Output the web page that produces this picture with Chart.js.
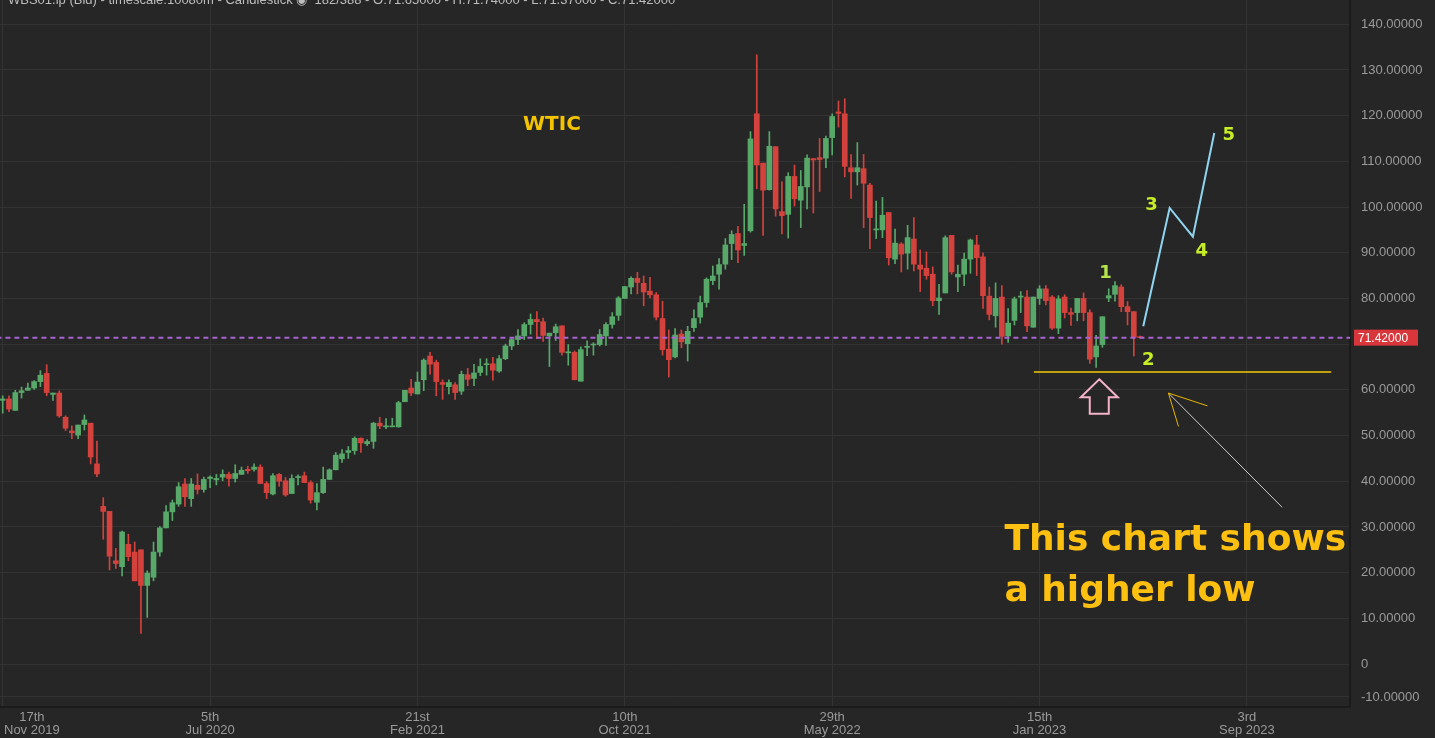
<!DOCTYPE html>
<html>
<head>
<meta charset="utf-8">
<script src="https://cdn.jsdelivr.net/npm/chart.js@4.4.1/dist/chart.umd.min.js"></script>
<style>
  html, body { margin: 0; padding: 0; background: #262626; }
  #wrap { width: 1435px; height: 738px; position: relative; }
</style>
</head>
<body>
<div id="wrap"><canvas id="chart"></canvas></div>
<script>
/* DATA - weekly WTI candles */
const opens = [
  57.7,58.0,55.5,59.4,59.9,60.4,61.8,63.6,59.0,59.3,
  54.0,51.0,50.1,52.4,52.7,43.8,34.5,33.4,22.6,21.3,
  26.2,24.5,25.0,17.2,19.0,24.5,29.8,33.3,35.0,39.4,
  36.2,39.1,38.2,40.6,40.3,40.9,41.5,40.6,41.5,42.6,
  42.6,43.1,39.5,37.2,41.5,40.1,37.3,40.8,41.2,39.7,
  35.4,37.5,40.4,42.5,44.9,46.3,46.7,49.4,48.2,48.7,
  52.7,51.9,51.9,51.9,57.4,60.4,59.1,62.2,67.4,66.0,
  61.6,60.7,61.1,59.7,63.3,62.5,63.8,65.5,65.7,64.1,
  66.8,69.6,71.0,71.8,74.3,75.4,74.9,71.8,72.5,74.0,
  68.1,68.2,61.9,69.3,69.8,69.9,71.8,74.3,76.3,80.0,
  82.5,84.4,83.3,81.6,80.8,75.6,68.9,67.2,72.2,70.1,
  73.6,75.9,79.1,83.9,85.3,87.5,92.0,94.2,91.6,94.8,
  120.4,109.6,103.8,113.2,99.0,98.4,106.7,101.5,104.4,110.6,
  110.8,110.7,115.2,120.8,120.4,108.6,107.7,108.4,104.8,95.0,
  95.0,98.8,88.6,91.9,89.9,93.0,87.3,86.6,85.3,79.5,
  81.2,93.8,84.7,85.3,88.6,91.7,89.1,80.5,76.2,80.3,
  71.8,75.2,80.3,80.3,73.7,80.0,82.1,80.3,73.5,80.3,
  76.9,76.9,80.0,76.9,67.2,69.9,80.1,80.9,82.5,78.2,
  77.1,71.65
];
const highs = [
  58.7,58.7,59.9,60.6,61.5,62.0,64.2,65.5,59.3,59.8,
  54.3,52.1,52.3,54.5,52.7,48.8,36.4,33.4,25.3,29.1,
  28.4,26.7,25.0,20.4,26.7,30.1,34.7,35.9,39.7,40.6,
  40.6,41.6,40.9,41.2,41.5,42.5,42.0,43.6,43.1,43.3,
  43.8,43.6,39.9,41.7,41.7,40.8,41.4,41.4,42.0,40.1,
  39.5,43.1,42.7,46.3,46.9,47.6,49.7,49.5,49.1,52.9,
  54.0,53.7,53.8,57.5,59.9,62.3,63.9,66.8,68.2,66.5,
  62.2,62.2,61.6,64.1,64.7,65.6,66.8,66.8,67.1,67.5,
  70.0,71.5,73.2,74.7,76.6,77.1,75.7,72.4,74.4,74.0,
  69.9,68.5,69.4,70.7,70.3,73.2,74.7,76.9,80.4,82.6,
  84.7,85.7,84.9,84.6,81.3,79.4,73.1,73.4,73.1,73.9,
  77.5,80.5,84.5,87.1,88.7,93.1,94.8,95.8,100.6,116.5,
  133.3,109.6,116.5,113.2,105.5,107.5,109.2,108.0,111.4,110.6,
  115.0,115.5,120.4,123.2,123.7,111.5,114.1,111.5,105.2,101.3,
  102.1,98.8,95.2,92.2,96.0,97.7,90.6,90.2,86.9,83.1,
  93.7,93.8,87.3,89.9,93.0,93.8,89.9,82.5,83.4,82.8,
  77.8,80.3,81.5,81.7,80.3,82.8,82.8,80.6,80.6,80.8,
  77.9,80.0,81.2,77.5,71.9,76.0,82.1,83.7,83.0,79.3,
  77.1,71.74
];
const lows = [
  54.9,55.2,55.5,58.2,59.9,60.1,60.7,58.7,57.7,54.0,
  51.1,49.3,49.3,51.2,43.8,41.0,27.3,20.6,20.9,19.3,
  22.6,18.2,6.7,10.2,18.2,23.6,29.8,31.4,34.5,34.5,
  34.5,37.2,37.6,38.6,39.2,40.1,38.9,39.8,41.5,41.7,
  42.2,39.5,36.2,37.0,38.9,36.7,37.3,39.2,39.7,35.2,
  33.7,37.3,40.4,42.5,44.1,45.0,45.9,46.3,47.8,47.2,
  51.5,51.5,51.9,51.8,57.4,58.7,59.1,59.8,63.4,58.7,
  57.9,59.1,57.9,59.0,60.9,60.9,63.1,63.2,62.1,63.8,
  66.6,68.8,69.9,71.0,72.2,71.2,70.6,65.1,70.8,67.6,
  65.4,62.2,61.9,67.5,67.6,69.6,69.7,73.5,75.2,80.0,
  81.0,81.0,78.4,80.1,75.3,67.6,62.8,67.0,69.2,66.3,
  72.8,74.6,78.1,83.0,82.0,86.4,88.5,87.8,89.4,94.5,
  104.0,93.8,103.7,98.0,94.1,93.2,100.2,95.5,99.6,98.7,
  103.4,108.6,111.4,117.5,106.6,101.9,104.8,95.5,90.9,93.1,
  93.3,87.3,87.6,85.8,86.4,86.0,81.5,84.2,78.4,76.5,
  81.2,85.3,81.5,82.8,85.5,85.0,77.8,75.3,73.7,70.0,
  70.4,74.2,76.9,72.7,73.7,78.7,78.6,73.2,72.3,75.7,
  74.1,75.1,75.1,65.8,64.9,69.3,79.3,79.4,77.1,74.2,
  67.4,71.37
];
const closes = [
  58.0,55.8,59.4,59.8,60.4,61.8,63.2,59.4,59.3,54.3,
  51.6,50.6,52.3,53.4,45.3,41.6,33.4,23.6,22.0,28.9,
  23.5,18.2,17.2,19.9,24.5,29.8,33.3,35.3,38.8,36.6,
  39.4,38.2,40.4,40.9,40.6,41.5,40.6,41.7,42.4,42.3,
  43.1,39.5,37.5,41.2,40.0,37.0,40.6,41.0,39.7,35.9,
  37.5,40.4,42.5,45.7,46.0,46.7,49.4,48.4,48.7,52.7,
  52.1,52.1,52.1,57.2,59.9,59.3,61.7,66.5,65.6,61.8,
  61.2,61.6,59.4,63.4,62.3,63.7,65.1,65.6,64.3,66.8,
  69.6,71.0,71.8,74.3,75.4,74.9,71.9,72.4,73.8,68.2,
  68.2,62.2,68.8,69.4,69.9,72.1,74.3,76.0,80.1,82.6,
  84.4,83.5,81.4,80.8,75.9,68.8,66.6,72.0,70.5,72.8,
  75.6,79.1,84.2,84.9,87.4,91.7,94.0,90.6,92.0,114.9,
  109.2,103.7,113.3,99.6,98.1,106.7,101.8,104.5,110.7,110.3,
  110.4,115.0,119.8,120.5,108.9,107.7,108.6,105.2,97.7,95.2,
  98.2,88.9,92.1,89.7,93.3,87.5,86.4,85.0,79.5,80.1,
  93.3,85.8,85.3,88.6,92.8,88.9,80.6,76.5,80.0,71.7,
  74.6,79.9,80.4,74.0,80.3,82.1,79.5,73.5,79.9,76.9,
  76.5,80.0,76.9,66.7,69.6,76.0,80.6,82.8,78.2,77.1,
  71.5,71.42
];

/* axis ticks: x in candle number (one per week), every 33 weeks */
const xTickIdx   = [1, 34, 67, 100, 133, 166, 199];
const xTickDay   = ["17th", "5th", "21st", "10th", "29th", "15th", "3rd"];
const xTickMonth = ["Nov 2019", "Jul 2020", "Feb 2021", "Oct 2021", "May 2022", "Jan 2023", "Sep 2023"];
const yTickVals  = [-10, 0, 10, 20, 30, 40, 50, 60, 70, 80, 90, 100, 110, 120, 130, 140];

/* drawn annotations, in candle number / price */
const waveX = [182.5, 186.7, 190.4, 193.8];
const waveY = [73.9, 99.8, 93.5, 116.2];
const waveLabels = ["1", "2", "3", "4", "5"];
const waveLabelX = [176.5, 183.3, 183.8, 191.8, 196.1];
const waveLabelY = [85.5, 66.5, 100.4, 90.4, 115.7];
const supportLevel = 63.9;
const supportFrom = 165.1, supportTo = 212.4;

const GREEN = "#58a86a";
const RED = "#d4423d";

const weeks = opens.map((_, i) => i + 1);
const last = closes.length - 1;
const candleColors = weeks.map((_, i) => closes[i] >= opens[i] ? GREEN : RED);

const header = "WBS01.lp (Bid) - timescale:10080m - Candlestick \u25C9  182/388 - O:" +
  opens[last].toFixed(5) + " - H:" + highs[last].toFixed(5) +
  " - L:" + lows[last].toFixed(5) + " - C:" + closes[last].toFixed(5);

/* PLUGIN: annotations + x labels */
const annotations = {
  id: "annotations",
  afterDatasetsDraw(chart) {
    const { ctx, scales: { x, y } } = chart;
    const px = v => x.getPixelForValue(v);
    const py = v => y.getPixelForValue(v);
    ctx.save();

    // WTIC
    ctx.fillStyle = "#f5c400";
    ctx.font = "bold 20px 'DejaVu Sans'";
    ctx.textAlign = "center";
    ctx.textBaseline = "middle";
    ctx.fillText("WTIC", px(88.4), py(118.0));

    // wave numbers
    ctx.font = "bold 18px 'DejaVu Sans'";
    waveLabels.forEach((t, i) => {
      ctx.fillStyle = i === 0 ? "#b6e64e" : "#c6ee26";
      ctx.fillText(t, px(waveLabelX[i]), py(waveLabelY[i]));
    });

    // pink hollow arrow
    const tx = px(175.5), ty = py(62.3);
    ctx.strokeStyle = "#f5b3c8";
    ctx.lineWidth = 2;
    ctx.beginPath();
    ctx.moveTo(tx, ty);
    ctx.lineTo(tx + 18.5, ty + 18);
    ctx.lineTo(tx + 9.5, ty + 18);
    ctx.lineTo(tx + 9.5, ty + 34.5);
    ctx.lineTo(tx - 9.5, ty + 34.5);
    ctx.lineTo(tx - 9.5, ty + 18);
    ctx.lineTo(tx - 18.5, ty + 18);
    ctx.closePath();
    ctx.stroke();

    // pointer line with yellow head
    ctx.lineWidth = 1;
    ctx.strokeStyle = "#cfcfcf";
    ctx.beginPath();
    ctx.moveTo(px(186.5), py(59.3));
    ctx.lineTo(px(204.6), py(34.3));
    ctx.stroke();
    ctx.strokeStyle = "#e8b600";
    ctx.beginPath();
    ctx.moveTo(px(192.7), py(56.5));
    ctx.lineTo(px(186.5), py(59.3));
    ctx.lineTo(px(188.1), py(52.0));
    ctx.stroke();

    // big text
    ctx.fillStyle = "#fdc010";
    ctx.font = "bold 36px 'DejaVu Sans'";
    ctx.textAlign = "left";
    ctx.fillText("This chart shows", px(160.4), py(27.1));
    ctx.fillText("a higher low", px(160.4), py(15.9));

    ctx.restore();
  },
  afterDraw(chart) {
    const { ctx, chartArea, scales: { x, y } } = chart;
    ctx.save();

    // header line, cut at the top edge
    ctx.fillStyle = "#bdbdbd";
    ctx.font = "13px 'Liberation Sans'";
    ctx.textAlign = "left";
    ctx.textBaseline = "alphabetic";
    ctx.fillText(header, 8, 4);

    // x tick labels, first one kept inside the canvas
    ctx.fillStyle = "#9a9a9a";
    ctx.font = "13px 'Liberation Sans'";
    ctx.textAlign = "center";
    ctx.textBaseline = "middle";
    xTickIdx.forEach((v, i) => {
      const w = Math.max(ctx.measureText(xTickDay[i]).width, ctx.measureText(xTickMonth[i]).width);
      let cx = x.getPixelForValue(v);
      cx = Math.max(cx, w / 2 + 4);
      ctx.fillText(xTickDay[i], cx, chartArea.bottom + 10);
      ctx.fillText(xTickMonth[i], cx, chartArea.bottom + 23);
    });

    // last price tag
    const ly = y.getPixelForValue(closes[last]);
    ctx.fillStyle = "#d8363a";
    ctx.fillRect(chartArea.right + 4, ly - 8, 64, 16);
    ctx.fillStyle = "#ffffff";
    ctx.font = "12px 'Liberation Sans'";
    ctx.textAlign = "left";
    ctx.fillText(closes[last].toFixed(5), chartArea.right + 8, ly + 1);

    ctx.restore();
  }
};

const noPad = scale => {
  scale.paddingTop = 0;
  scale.paddingBottom = 0;
  scale.paddingLeft = 0;
  scale.paddingRight = 0;
};

/* CHART */
const ctx = document.getElementById("chart");

new Chart(ctx, {
  type: "bar",
  data: {
    datasets: [
      {
        type: "line",
        data: waveX.map((v, i) => ({ x: v, y: waveY[i] })),
        borderColor: "#8fd5f0",
        borderWidth: 2,
        pointRadius: 0,
        order: 0
      },
      {
        type: "line",
        data: [{ x: supportFrom, y: supportLevel }, { x: supportTo, y: supportLevel }],
        borderColor: "#f2cb05",
        borderWidth: 1.5,
        pointRadius: 0,
        order: 0
      },
      {
        type: "line",
        data: [{ x: 0, y: closes[last] }, { x: 220, y: closes[last] }],
        borderColor: "#a964d4",
        borderWidth: 2,
        borderDash: [5, 4],
        pointRadius: 0,
        order: 0
      },
      {
        label: "body",
        data: weeks.map((w, i) => ({ x: w, y: [opens[i], closes[i]] })),
        backgroundColor: candleColors,
        barThickness: 5,
        minBarLength: 1,
        grouped: false,
        order: 1
      },
      {
        label: "wick",
        data: weeks.map((w, i) => ({
          x: w,
          y: [Math.min(lows[i], opens[i], closes[i]), Math.max(highs[i], opens[i], closes[i])]
        })),
        backgroundColor: candleColors,
        barThickness: 1,
        grouped: false,
        order: 2
      }
    ]
  },
  options: {
    responsive: true,
    maintainAspectRatio: false,
    animation: false,
    events: [],
    layout: { padding: 0, autoPadding: false },
    plugins: { legend: { display: false }, tooltip: { enabled: false } },
    scales: {
      x: {
        type: "linear",
        min: 0.57,
        max: 215.4,
        offset: false,
        grid: { color: "#333333", drawTicks: false, offset: false },
        border: { color: "#1b1b1b", width: 2 },
        ticks: { display: false },
        afterBuildTicks: scale => { scale.ticks = xTickIdx.map(v => ({ value: v })); },
        afterFit: scale => { scale.height = 31; noPad(scale); }
      },
      y: {
        position: "right",
        min: -9.4,
        max: 145.3,
        grid: { color: "#333333", drawTicks: false },
        border: { color: "#1b1b1b", width: 2 },
        ticks: {
          color: "#9a9a9a",
          font: { family: "'Liberation Sans'", size: 13 },
          padding: 11,
          // the label under the last price tag is hidden
          callback: (v, i) => Math.abs(yTickVals[i] - closes[last]) < 4 ? "" :
            (yTickVals[i] === 0 ? "0" : yTickVals[i].toFixed(5))
        },
        afterBuildTicks: scale => {
          scale.ticks = yTickVals.map(v => ({ value: Math.max(v, scale.min + 2.2) }));
        },
        afterFit: scale => { scale.width = 85; noPad(scale); }
      }
    }
  },
  plugins: [annotations]
});
</script>
</body>
</html>
